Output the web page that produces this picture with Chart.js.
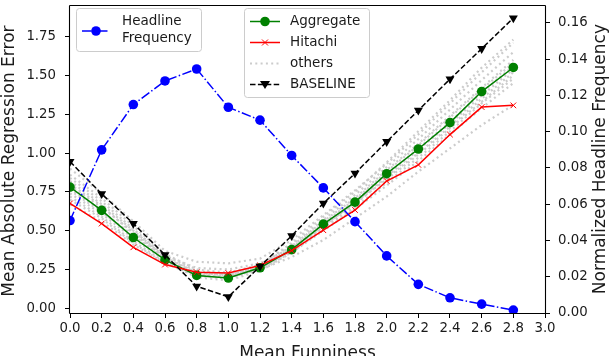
<!DOCTYPE html>
<html>
<head>
<meta charset="utf-8">
<script src="https://cdn.jsdelivr.net/npm/chart.js@4/dist/chart.umd.min.js"></script>
<style>
  html, body { margin: 0; padding: 0; background: #fff; }
  #wrap { width: 612px; height: 356px; position: relative; overflow: hidden; }
</style>
</head>
<body>
<div id="wrap"><canvas id="c" width="612" height="356"></canvas></div>
<script>
// ---------- data ----------
const funniness = [0.0, 0.2, 0.4, 0.6, 0.8, 1.0, 1.2, 1.4, 1.6, 1.8, 2.0, 2.2, 2.4, 2.6, 2.8];
const headlineFrequency = [0.051, 0.090, 0.115, 0.128, 0.1346, 0.1135, 0.1064, 0.0869, 0.069, 0.0504, 0.0315, 0.0158, 0.0084, 0.0049, 0.0016];
const aggregate = [0.781, 0.631, 0.456, 0.312, 0.212, 0.195, 0.261, 0.378, 0.542, 0.684, 0.867, 1.026, 1.196, 1.396, 1.551];
const hitachi = [0.676, 0.546, 0.393, 0.282, 0.233, 0.227, 0.276, 0.372, 0.503, 0.633, 0.820, 0.924, 1.119, 1.296, 1.307];
const baseline = [0.945, 0.737, 0.546, 0.344, 0.142, 0.074, 0.270, 0.467, 0.676, 0.869, 1.073, 1.275, 1.476, 1.672, 1.869];
const others = [
  [0.90, 0.74, 0.56, 0.37, 0.30, 0.29, 0.32, 0.44, 0.60, 0.76, 0.93, 1.12, 1.32, 1.52, 1.71],
  [0.84, 0.69, 0.51, 0.34, 0.24, 0.22, 0.28, 0.41, 0.57, 0.73, 0.91, 1.09, 1.28, 1.47, 1.65],
  [0.80, 0.66, 0.48, 0.33, 0.23, 0.21, 0.27, 0.40, 0.56, 0.71, 0.89, 1.06, 1.24, 1.42, 1.60],
  [0.77, 0.63, 0.46, 0.32, 0.22, 0.20, 0.26, 0.38, 0.54, 0.69, 0.86, 1.03, 1.20, 1.39, 1.56],
  [0.74, 0.61, 0.45, 0.31, 0.21, 0.19, 0.25, 0.37, 0.52, 0.67, 0.84, 1.00, 1.17, 1.35, 1.52],
  [0.72, 0.59, 0.43, 0.30, 0.20, 0.18, 0.24, 0.36, 0.51, 0.65, 0.81, 0.97, 1.14, 1.32, 1.48],
  [0.70, 0.58, 0.42, 0.29, 0.21, 0.20, 0.25, 0.36, 0.50, 0.64, 0.79, 0.95, 1.12, 1.29, 1.45],
  [0.79, 0.65, 0.49, 0.34, 0.26, 0.25, 0.29, 0.39, 0.53, 0.68, 0.85, 1.02, 1.19, 1.37, 1.54],
  [0.67, 0.56, 0.41, 0.29, 0.23, 0.22, 0.25, 0.33, 0.44, 0.58, 0.72, 0.88, 1.03, 1.18, 1.31],
  [0.86, 0.71, 0.53, 0.35, 0.25, 0.23, 0.28, 0.42, 0.59, 0.75, 0.94, 1.14, 1.34, 1.55, 1.73],
  [0.82, 0.67, 0.50, 0.33, 0.22, 0.21, 0.27, 0.39, 0.55, 0.70, 0.88, 1.05, 1.23, 1.41, 1.58],
  [0.76, 0.62, 0.47, 0.32, 0.23, 0.22, 0.26, 0.37, 0.53, 0.68, 0.83, 0.99, 1.16, 1.33, 1.50]
];
const xTicks = [0.0, 0.2, 0.4, 0.6, 0.8, 1.0, 1.2, 1.4, 1.6, 1.8, 2.0, 2.2, 2.4, 2.6, 2.8, 3.0];
const yTicks = [0.00, 0.25, 0.50, 0.75, 1.00, 1.25, 1.50, 1.75];
const y2Ticks = [0.00, 0.02, 0.04, 0.06, 0.08, 0.10, 0.12, 0.14, 0.16];
const xTitle = 'Mean Funniness';
const yTitle = 'Mean Absolute Regression Error';
const y2Title = 'Normalized Headline Frequency';

// ---------- styles ----------
const FONT = '"DejaVu Sans", "Liberation Sans", sans-serif';
const BLUE = '#0000ff', GREEN = '#008000', RED = '#ff0000', BLACK = '#000000', GRAY = '#cccccc';
const DASHDOT = [9.6, 2.4, 1.5, 2.4], DASHED = [5.5, 2.4], DOTTED = [2, 3.3];

const pts = arr => arr.map((v, i) => ({ x: funniness[i], y: v }));

const datasets = [];
datasets.push({
  label: 'Headline Frequency', data: pts(headlineFrequency), yAxisID: 'y2',
  borderColor: BLUE, backgroundColor: BLUE, borderWidth: 1.5, borderDash: DASHDOT,
  pointStyle: 'circle', pointRadius: 4.8, pointBorderWidth: 0, order: 0, clip: 0
});
datasets.push({
  label: 'BASELINE', data: pts(baseline), yAxisID: 'y',
  borderColor: BLACK, backgroundColor: BLACK, borderWidth: 1.5, borderDash: DASHED,
  pointStyle: 'triangle', pointRotation: 180, pointRadius: 5.2, pointBorderWidth: 0, order: 1, clip: 0
});
datasets.push({
  label: 'Hitachi', data: pts(hitachi), yAxisID: 'y',
  borderColor: RED, backgroundColor: RED, borderWidth: 1.5,
  pointStyle: 'crossRot', pointRadius: 4, pointBorderWidth: 1, order: 2, clip: 0
});
datasets.push({
  label: 'Aggregate', data: pts(aggregate), yAxisID: 'y',
  borderColor: GREEN, backgroundColor: GREEN, borderWidth: 1.5,
  pointStyle: 'circle', pointRadius: 4.8, pointBorderWidth: 0, order: 3, clip: 0
});
others.forEach((o, k) => datasets.push({
  label: 'others', data: pts(o), yAxisID: 'y',
  borderColor: GRAY, borderWidth: 2.2, borderDash: DOTTED,
  pointRadius: 0, order: 10 + k, clip: 0
}));

// ---------- custom drawing: frame, titles, legends ----------
function legendLine(ctx, x0, x1, y, color, width, dash) {
  ctx.save();
  ctx.strokeStyle = color; ctx.lineWidth = width; ctx.setLineDash(dash || []);
  ctx.beginPath(); ctx.moveTo(x0, y); ctx.lineTo(x1, y); ctx.stroke();
  ctx.restore();
}
function legendBox(ctx, x, y, w, h) {
  ctx.save();
  const r = 3;
  ctx.beginPath();
  ctx.moveTo(x + r, y); ctx.lineTo(x + w - r, y); ctx.arcTo(x + w, y, x + w, y + r, r);
  ctx.lineTo(x + w, y + h - r); ctx.arcTo(x + w, y + h, x + w - r, y + h, r);
  ctx.lineTo(x + r, y + h); ctx.arcTo(x, y + h, x, y + h - r, r);
  ctx.lineTo(x, y + r); ctx.arcTo(x, y, x + r, y, r); ctx.closePath();
  ctx.fillStyle = 'rgba(255,255,255,0.8)'; ctx.fill();
  ctx.strokeStyle = '#cccccc'; ctx.lineWidth = 1; ctx.stroke();
  ctx.restore();
}
const overlay = {
  id: 'overlay',
  afterDatasetsDraw(chart) {
    const ctx = chart.ctx, a = chart.chartArea;
    const L = Math.round(a.left) - 0.5, R = Math.round(a.right) + 0.5;
    const T = Math.round(a.top) + 0.5, B = Math.round(a.bottom) + 0.5;
    ctx.save();
    ctx.strokeStyle = '#000'; ctx.lineWidth = 1.1;
    ctx.beginPath();
    ctx.moveTo(L, T); ctx.lineTo(R, T);
    ctx.moveTo(L, B); ctx.lineTo(R, B);
    ctx.moveTo(L, T); ctx.lineTo(L, B);
    ctx.moveTo(R, T); ctx.lineTo(R, B);
    ctx.stroke();
    ctx.restore();
  },
  afterDraw(chart) {
    const ctx = chart.ctx, a = chart.chartArea;
    ctx.save();
    ctx.fillStyle = '#1a1a1a';
    ctx.font = '17px ' + FONT;
    ctx.textAlign = 'center'; ctx.textBaseline = 'alphabetic';
    ctx.fillText(xTitle, (a.left + a.right) / 2, 357.5);
    ctx.textBaseline = 'middle';
    ctx.save(); ctx.translate(10, (a.top + a.bottom) / 2 + 2); ctx.rotate(-Math.PI / 2);
    ctx.fillText(yTitle, 0, 0); ctx.restore();
    ctx.save(); ctx.translate(601, (a.top + a.bottom) / 2); ctx.rotate(-Math.PI / 2);
    ctx.fillText(y2Title, 0, 0); ctx.restore();

    // legend 1 (twin axis)
    ctx.font = '13.5px ' + FONT; ctx.textAlign = 'left'; ctx.textBaseline = 'middle';
    legendBox(ctx, 76.5, 8.5, 125, 43);
    legendLine(ctx, 82, 109, 31, BLUE, 1.5, DASHDOT);
    ctx.fillStyle = BLUE; ctx.beginPath(); ctx.arc(96, 31, 4.8, 0, Math.PI * 2); ctx.fill();
    ctx.fillStyle = '#1a1a1a';
    ctx.fillText('Headline', 122, 21);
    ctx.fillText('Frequency', 122, 38.5);

    // legend 2 (primary axis)
    legendBox(ctx, 244.5, 8.5, 125, 89);
    const ys = [21.5, 42.5, 63.5, 84.5];
    legendLine(ctx, 250, 280, ys[0], GREEN, 1.5);
    ctx.fillStyle = GREEN; ctx.beginPath(); ctx.arc(265, ys[0], 4.8, 0, Math.PI * 2); ctx.fill();
    legendLine(ctx, 250, 280, ys[1], RED, 1.5);
    ctx.strokeStyle = RED; ctx.lineWidth = 1; ctx.beginPath();
    ctx.moveTo(262, ys[1] - 3); ctx.lineTo(268, ys[1] + 3); ctx.moveTo(268, ys[1] - 3); ctx.lineTo(262, ys[1] + 3); ctx.stroke();
    legendLine(ctx, 250, 280, ys[2], GRAY, 2.2, DOTTED);
    legendLine(ctx, 250, 280, ys[3], BLACK, 1.5, DASHED);
    ctx.fillStyle = BLACK; ctx.beginPath();
    ctx.moveTo(260, ys[3] - 3.5); ctx.lineTo(270, ys[3] - 3.5); ctx.lineTo(265, ys[3] + 4.5); ctx.closePath(); ctx.fill();
    ctx.fillStyle = '#1a1a1a';
    ctx.fillText('Aggregate', 290, ys[0]);
    ctx.fillText('Hitachi', 290, ys[1]);
    ctx.fillText('others', 290, ys[2]);
    ctx.fillText('BASELINE', 290, ys[3]);
    ctx.restore();
  }
};

const tickFont = { family: FONT, size: 13.3 };
const gridOpts = { display: true, drawOnChartArea: false, drawTicks: true, tickLength: 5, color: '#000', tickColor: '#000', lineWidth: 1 };
const noPad = s => { s.paddingTop = 0; s.paddingBottom = 0; s.paddingLeft = 0; s.paddingRight = 0; };

new Chart(document.getElementById('c'), {
  type: 'line',
  data: { datasets },
  options: {
    responsive: false, animation: false, devicePixelRatio: 1,
    layout: { padding: { top: 2, left: 0, right: 0, bottom: 0 } },
    plugins: { legend: { display: false }, tooltip: { enabled: false }, title: { display: false } },
    scales: {
      x: {
        type: 'linear', position: 'bottom', min: 0, max: 3.0,
        grid: gridOpts, border: { display: false },
        ticks: { font: tickFont, color: '#1a1a1a', autoSkip: false, maxRotation: 0, padding: 3,
                 callback: v => Number(v).toFixed(1) },
        afterBuildTicks: s => { s.ticks = xTicks.map(v => ({ value: v })); },
        afterFit: s => { s.height = 43; noPad(s); }
      },
      y: {
        type: 'linear', position: 'left', min: -0.030, max: 1.952,
        grid: gridOpts, border: { display: false },
        ticks: { font: tickFont, color: '#1a1a1a', padding: 9, callback: v => Number(v).toFixed(2) },
        afterBuildTicks: s => { s.ticks = yTicks.map(v => ({ value: v })); },
        afterFit: s => { s.width = 70; noPad(s); }
      },
      y2: {
        type: 'linear', position: 'right', min: 0, max: 0.1698,
        grid: gridOpts, border: { display: false },
        ticks: { font: tickFont, color: '#1a1a1a', padding: 8, callback: v => Number(v).toFixed(2) },
        afterBuildTicks: s => { s.ticks = y2Ticks.map(v => ({ value: v })); },
        afterFit: s => { s.width = 67; noPad(s); }
      }
    }
  },
  plugins: [overlay]
});
</script>
</body>
</html>
